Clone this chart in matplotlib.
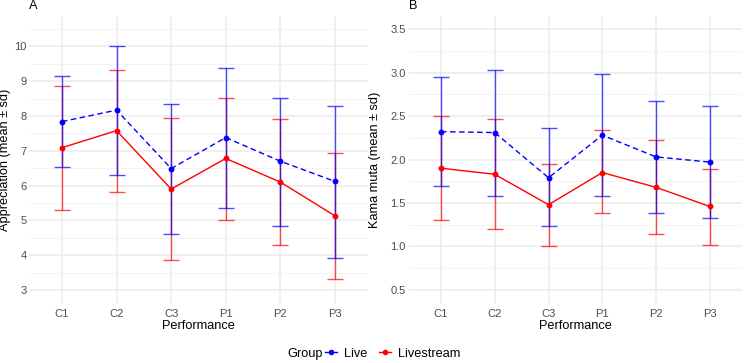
import matplotlib
matplotlib.use('Agg')
import matplotlib.pyplot as plt
from matplotlib.lines import Line2D
from matplotlib.ticker import MultipleLocator, FormatStrFormatter

plt.rcParams['font.family'] = ['Liberation Sans', 'DejaVu Sans']

perf = ['C1', 'C2', 'C3', 'P1', 'P2', 'P3']

# panel A: appreciation, mean and mean +/- sd
app_live = [7.84, 8.17, 6.49, 7.38, 6.70, 6.12]
app_live_lo = [6.53, 6.31, 4.62, 5.36, 4.85, 3.93]
app_live_hi = [9.15, 10.02, 8.35, 9.38, 8.53, 8.30]
app_ls = [7.09, 7.58, 5.90, 6.78, 6.10, 5.13]
app_ls_lo = [5.29, 5.82, 3.87, 5.02, 4.28, 3.31]
app_ls_hi = [8.87, 9.33, 7.94, 8.52, 7.92, 6.94]

# panel B: kama muta
km_live = [2.32, 2.31, 1.79, 2.28, 2.03, 1.97]
km_live_lo = [1.70, 1.58, 1.23, 1.58, 1.38, 1.33]
km_live_hi = [2.945, 3.03, 2.36, 2.98, 2.67, 2.61]
km_ls = [1.90, 1.83, 1.48, 1.85, 1.68, 1.46]
km_ls_lo = [1.31, 1.20, 1.00, 1.38, 1.14, 1.02]
km_ls_hi = [2.50, 2.47, 1.95, 2.34, 2.22, 1.89]

BLUE, RED = '#0000FF', '#FF0000'
GRID = '#EBEBEB'
TICK = '#4D4D4D'


def panel(ax, live, live_lo, live_hi, ls, ls_lo, ls_hi, ylim, step, ylabel, tag, labx):
    x = list(range(len(perf)))
    for m, lo, hi, col, style in ((ls, ls_lo, ls_hi, RED, '-'),
                                  (live, live_lo, live_hi, BLUE, '--')):
        yerr = [[a - b for a, b in zip(m, lo)], [b - a for a, b in zip(m, hi)]]
        ax.errorbar(x, m, yerr=yerr, fmt='none', ecolor=col, alpha=0.7,
                    elinewidth=1.0, capsize=5.5, capthick=1.0, zorder=3)
        ax.plot(x, m, style, color=col, lw=1.0, zorder=4,
                dashes=(4, 2.5) if style == '--' else (None, None))
        ax.plot(x, m, 'o', color=col, ms=3.2, zorder=5)
    ax.set_xlim(-0.6, len(perf) - 0.4)
    rng = ylim[1] - ylim[0]
    ax.set_ylim(ylim[0] - 0.05 * rng, ylim[1] + 0.05 * rng)
    ax.set_xticks(x)
    ax.set_xticklabels(perf)
    ax.yaxis.set_major_locator(MultipleLocator(step))
    ax.yaxis.set_minor_locator(MultipleLocator(step / 2))
    ax.grid(True, which='major', color=GRID, lw=1.1)
    ax.grid(True, which='minor', axis='y', color='#F3F3F3', lw=0.7)
    ax.set_axisbelow(True)
    for s in ax.spines.values():
        s.set_visible(False)
    ax.tick_params(which='both', length=0, labelsize=8, labelcolor=TICK, pad=2)
    ax.tick_params(axis='x', pad=4)
    ax.set_xlabel('Performance', fontsize=9.2, labelpad=1)
    ax.set_ylabel(ylabel, fontsize=9.2)
    ax.yaxis.set_label_coords(labx, 0.5)
    ax.set_title(tag, loc='left', fontsize=9.2, pad=5)


fig = plt.figure(figsize=(7.46, 3.63), dpi=100)
axA = fig.add_axes([0.0391, 0.1653, 0.4539, 0.7906])
axB = fig.add_axes([0.5479, 0.1653, 0.4468, 0.7906])

panel(axA, app_live, app_live_lo, app_live_hi, app_ls, app_ls_lo, app_ls_hi,
      (3, 10.5), 1, 'Appreciation (mean \u00b1 sd)', 'A', -0.054)
axB.yaxis.set_major_formatter(FormatStrFormatter('%.1f'))
panel(axB, km_live, km_live_lo, km_live_hi, km_ls, km_ls_lo, km_ls_hi,
      (0.5, 3.5), 0.5, 'Kama muta (mean \u00b1 sd)', 'B', -0.083)

fig.text(0.385, 0.025, 'Group', fontsize=9.2, ha='left', va='center')
handles = [Line2D([], [], color=BLUE, lw=1.0, marker='o', ms=3),
           Line2D([], [], color=RED, lw=1.0, marker='o', ms=3)]
fig.legend(handles, ['Live', 'Livestream'], loc='center left',
           bbox_to_anchor=(0.435, 0.025), ncol=2, frameon=False,
           fontsize=9.2, handlelength=1.0, handletextpad=0.5,
           columnspacing=0.9, borderaxespad=0, borderpad=0)

fig.savefig('out.png', dpi=100)
